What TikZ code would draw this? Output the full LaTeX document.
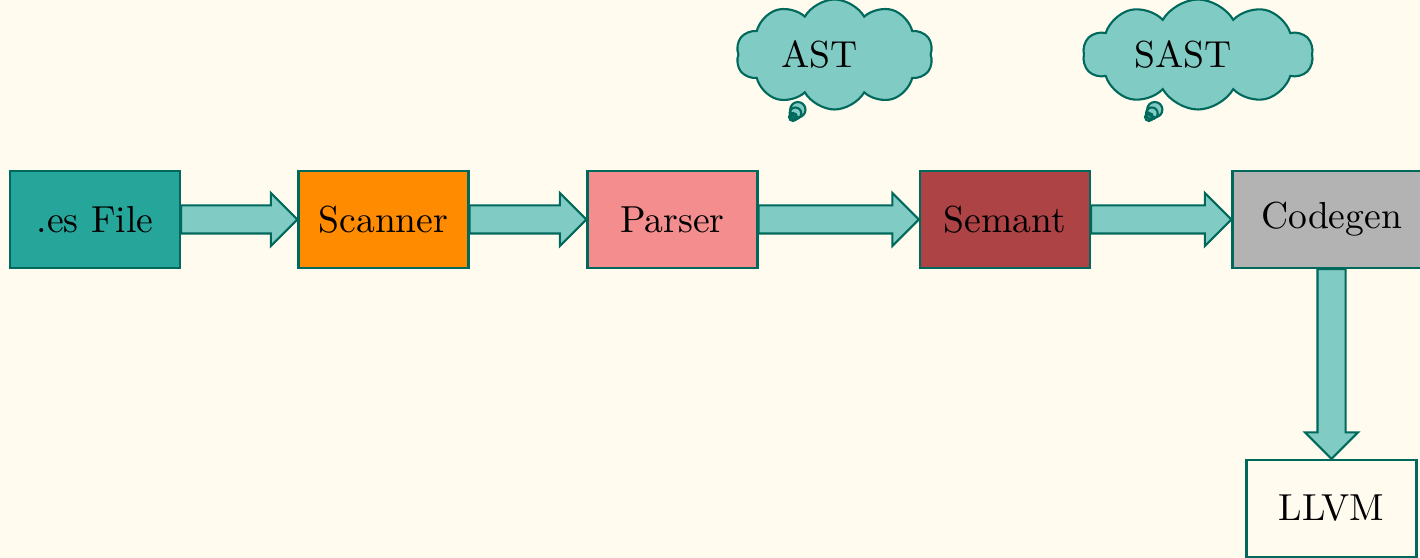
\documentclass[tikz,border=0pt]{standalone}
\usetikzlibrary{calc,shapes.arrows,shapes.callouts}

\definecolor{paper}{HTML}{FFFBEF}
\definecolor{tealline}{HTML}{00695C}
\definecolor{tealpipe}{HTML}{80CBC4}
\definecolor{tealbox}{HTML}{26A69A}
\definecolor{scanorange}{HTML}{FF8C00}
\definecolor{parsepink}{HTML}{F48E8E}
\definecolor{semantred}{HTML}{AE4346}
\definecolor{codegray}{HTML}{B3B3B3}

\tikzset{
  stage/.style={draw=tealline, line width=0.6pt, rectangle,
    minimum width=1.7cm, minimum height=0.97cm, inner xsep=0.2cm,
    font=\fontsize{10.7}{13}\selectfont},
  pipe/.style={draw=tealline, fill=tealpipe, line width=0.6pt,
    single arrow, single arrow head extend=0.125cm,
    inner xsep=0pt, inner ysep=0.13cm, outer sep=0pt, anchor=tail},
  thought/.style={draw=tealline, fill=tealpipe, line width=0.6pt,
    cloud callout, cloud puffs=10, cloud puff arc=120, aspect=2,
    minimum height=1.1cm,
    callout pointer start size=0.19cm, callout pointer end size=0.08cm,
    callout pointer segments=3,
    font=\fontsize{10.7}{13}\selectfont},
}

% thick arrow from one stage to the next
\newcommand{\StagePipe}[2]{%
  \path let \p1=($(#2)-(#1)$), \n1={veclen(\x1,\y1)}, \n2={atan2(\y1,\x1)} in
    node[pipe, minimum height=\n1, rotate=\n2] at (#1) {};
}
% cloud text, pushed a little to the left
\newcommand{\CloudText}[1]{\makebox[0pt]{#1\hspace*{0.3cm}}}

\begin{document}
\begin{tikzpicture}
  \useasboundingbox (0,0) rectangle (14.2,-5.58);
  \fill[paper] (0,0) rectangle (14.2,-5.58);

  \node[stage, fill=tealbox]    (file)    at (0.95,  -2.195) {.es File};
  \node[stage, fill=scanorange] (scanner) at (3.835, -2.195) {Scanner};
  \node[stage, fill=parsepink]  (parser)  at (6.725, -2.195) {Parser};
  \node[stage, fill=semantred]  (semant)  at (10.05, -2.195) {Semant};
  \node[stage, fill=codegray, minimum width=1.98cm]
                                (codegen) at (13.315,-2.195) {Codegen};
  \node[stage, fill=paper]      (llvm)    at (13.315,-5.085) {LLVM};

  \StagePipe{file.east}{scanner.west}
  \StagePipe{scanner.east}{parser.west}
  \StagePipe{parser.east}{semant.west}
  \StagePipe{semant.east}{codegen.west}
  \StagePipe{codegen.south}{llvm.north}

  \node[thought, minimum width=1.97cm,
        callout absolute pointer={(7.93,-1.17)}] (ast)  at (8.345,-0.545) {\CloudText{AST}};
  \node[thought, minimum width=2.3cm,
        callout absolute pointer={(11.49,-1.17)}] (sast) at (11.98,-0.545) {\CloudText{SAST}};
\end{tikzpicture}
\end{document}
